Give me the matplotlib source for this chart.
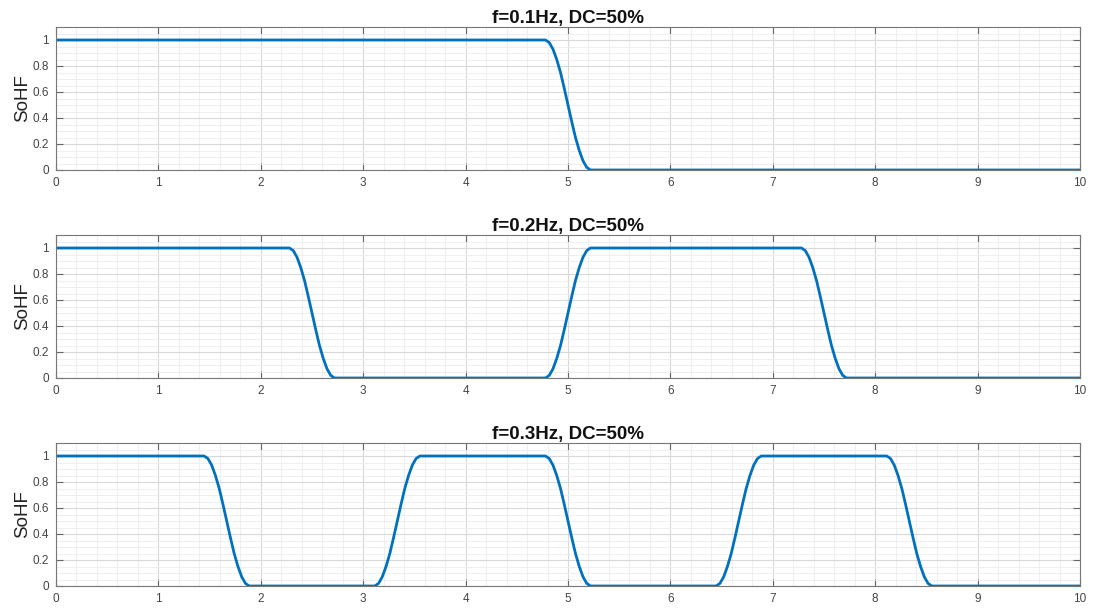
import matplotlib
matplotlib.use("Agg")
import matplotlib.pyplot as plt
from matplotlib.ticker import MultipleLocator

plt.rcParams['font.family'] = ['Liberation Sans', 'DejaVu Sans']

titles = ["f=0.1Hz, DC=50%", "f=0.2Hz, DC=50%", "f=0.3Hz, DC=50%"]
ylabel = "SoHF"

# values read along a falling / rising edge
fall = [1, 0.98, 0.93, 0.85, 0.75, 0.63, 0.5, 0.37, 0.25, 0.15, 0.07, 0.02, 0]
rise = [0, 0.02, 0.07, 0.15, 0.25, 0.37, 0.5, 0.63, 0.75, 0.85, 0.93, 0.98, 1]

x1 = [0,
      4.78, 4.817, 4.853, 4.89, 4.927, 4.963, 5.0, 5.037, 5.073, 5.11, 5.147, 5.183, 5.22,
      10]
y1 = [1] + fall + [0]

x2 = [0,
      2.28, 2.317, 2.353, 2.39, 2.427, 2.463, 2.5, 2.537, 2.573, 2.61, 2.647, 2.683, 2.72,
      4.78, 4.817, 4.853, 4.89, 4.927, 4.963, 5.0, 5.037, 5.073, 5.11, 5.147, 5.183, 5.22,
      7.28, 7.317, 7.353, 7.39, 7.427, 7.463, 7.5, 7.537, 7.573, 7.61, 7.647, 7.683, 7.72,
      10]
y2 = [1] + fall + rise + fall + [0]

x3 = [0,
      1.447, 1.484, 1.52, 1.557, 1.594, 1.63, 1.667, 1.704, 1.74, 1.777, 1.814, 1.85, 1.887,
      3.113, 3.15, 3.186, 3.223, 3.26, 3.296, 3.333, 3.37, 3.406, 3.443, 3.48, 3.516, 3.553,
      4.78, 4.817, 4.853, 4.89, 4.927, 4.963, 5.0, 5.037, 5.073, 5.11, 5.147, 5.183, 5.22,
      6.447, 6.484, 6.52, 6.557, 6.594, 6.63, 6.667, 6.704, 6.74, 6.777, 6.814, 6.85, 6.887,
      8.113, 8.15, 8.186, 8.223, 8.26, 8.296, 8.333, 8.37, 8.406, 8.443, 8.48, 8.516, 8.553,
      10]
y3 = [1] + fall + rise + fall + rise + fall + [0]

series = [(x1, y1), (x2, y2), (x3, y3)]
xticks = list(range(0, 11))
yticks = [0, 0.2, 0.4, 0.6, 0.8, 1]
ytick_labels = ["0", "0.2", "0.4", "0.6", "0.8", "1"]

fig = plt.figure(figsize=(10.96, 6.08), dpi=100)
W, H = 1096, 608
left, right = 56, 1080
bottoms = [170, 378, 586]
ah = 143

for i, (xs, ys) in enumerate(series):
    ax = fig.add_axes([left / W, 1 - bottoms[i] / H, (right - left) / W, ah / H])
    ax.plot(xs, ys, color='#0072BD', lw=2.0, solid_joinstyle='round')
    ax.set_xlim(0, 10)
    ax.set_ylim(0, 1.1)
    ax.set_xticks(xticks)
    ax.set_xticklabels([str(t) for t in xticks])
    ax.set_yticks(yticks)
    ax.set_yticklabels(ytick_labels)
    ax.xaxis.set_minor_locator(MultipleLocator(0.2))
    ax.yaxis.set_minor_locator(MultipleLocator(0.05))
    ax.grid(which='major', color='#d9d9d9', lw=0.8)
    ax.grid(which='minor', color='#ededed', lw=0.6)
    ax.set_axisbelow(True)
    ax.tick_params(which='major', direction='in', length=5, width=0.8,
                   colors='#666666', labelsize=8.5, labelcolor='#444444',
                   top=True, right=True, pad=5)
    ax.tick_params(which='minor', length=0, top=True, right=True)
    for s in ax.spines.values():
        s.set_color('#777777')
        s.set_linewidth(0.8)
    ax.set_title(titles[i], fontsize=13.5, fontweight='bold', pad=3, color='#111111')
    ax.set_ylabel(ylabel, fontsize=13.5, labelpad=1, color='#222222')

fig.savefig('out.png', dpi=100)
